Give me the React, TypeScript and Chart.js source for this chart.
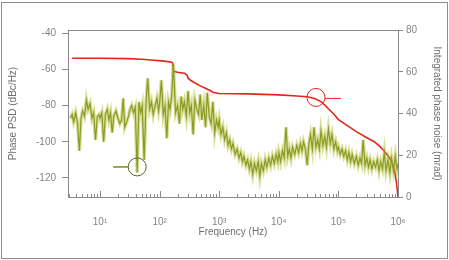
import React, { useEffect, useRef } from 'react';
import { Chart, registerables } from 'chart.js';

Chart.register(...registerables);

// Phase PSD (green, left axis, dBc/Hz)
const psdFreq = [
  3.2, 3.4, 3.6, 3.9, 4.2, 4.5, 4.8, 5.1, 5.5, 5.9, 6.3, 6.8, 7.3, 7.8, 8.4, 9.0, 9.6,
  10, 10.7, 11.5, 12.3, 13.2, 14.1, 15, 16, 17, 18.5, 20, 21.5, 23, 24.5, 26, 28, 30, 32, 34, 36.5, 39, 42, 45, 48, 51, 55, 59, 63, 68, 73, 78, 84, 90, 96,
  100, 107, 115, 123, 132, 141, 150, 160, 170, 185, 200, 215, 230, 245, 260, 280, 300, 320, 340, 365, 390, 420, 450, 480, 510, 550, 590, 630, 680, 730, 780, 840, 900, 960,
  1000, 1070, 1150, 1230, 1320, 1410, 1500, 1600, 1700, 1850, 2000, 2150, 2300, 2450, 2600, 2800, 3000, 3200, 3400, 3650, 3900, 4200, 4500, 4800, 5100, 5500, 5900, 6300, 6800, 7300, 7800, 8400, 9000, 9600,
  10000, 10700, 11500, 12300, 13200, 14100, 15000, 16000, 17000, 18500, 20000, 21500, 23000, 24500, 26000, 28000, 30000, 32000, 34000, 36500, 39000, 42000, 45000, 48000, 51000, 55000, 59000, 63000, 68000, 73000, 78000, 84000, 90000, 96000,
  100000, 107000, 115000, 123000, 132000, 141000, 150000, 160000, 170000, 185000, 200000, 215000, 230000, 245000, 260000, 280000, 300000, 320000, 340000, 365000, 390000, 420000, 450000, 480000, 510000, 550000, 590000, 630000, 680000, 730000, 780000, 840000, 900000, 960000, 1000000,
];
const psdDb = [
  -87, -85, -89, -84, -90, -105, -87, -83, -86, -77, -82, -79, -87, -84, -99, -86, -85,
  -87, -84, -100, -85, -82, -88, -84, -95, -86, -83, -87, -90, -88, -76, -92, -89, -86, -82, -80, -84, -81, -117, -78, -84, -80, -110, -79, -65, -82, -78, -85, -80, -76, -83,
  -79, -66, -85, -80, -98, -78, -82, -74, -57, -84, -80, -90, -75, -82, -78, -86, -72, -84, -80, -96, -77, -82, -85, -74, -88, -80, -92, -73, -86, -90, -78, -95, -88, -92,
  -88, -96, -92, -99, -95, -102, -99, -104, -101, -107, -104, -109, -106, -111, -108, -113, -110, -115, -111, -118, -112, -116, -111, -119, -112, -116, -110, -114, -109, -113, -108, -112, -107, -111,
  -106, -111, -105, -109, -92, -108, -104, -109, -103, -107, -102, -106, -101, -105, -100, -104, -113, -101, -96, -104, -92, -103, -99, -104, -94, -102, -97, -103, -93, -101, -96, -104, -100, -105,
  -103, -107, -104, -108, -105, -110, -106, -111, -107, -112, -108, -113, -109, -112, -99, -113, -109, -114, -110, -115, -111, -114, -110, -116, -111, -115, -106, -116, -110, -117, -109, -116, -108, -115, -112,
];

// Integrated phase noise (red, right axis, mrad)
const intFreq = [3.4, 10, 30, 50, 80, 120, 160, 165, 172, 200, 260, 290, 300, 330, 400, 500, 600, 700, 800, 1000, 3000, 10000, 20000, 30000, 40000, 50000, 60000, 70000, 85000, 100000, 150000, 200000, 300000, 400000, 500000, 600000, 700000, 800000, 880000, 940000, 1000000];
const intMrad = [66.5, 66.5, 66.3, 66, 65.5, 65.1, 64.6, 64.1, 60.2, 59.8, 59.3, 58.3, 56.9, 55.9, 54.5, 53, 52, 51, 50.1, 49.6, 49.4, 48.9, 48.4, 48, 47.2, 45.8, 43.9, 41.9, 39.5, 37.1, 33.7, 31.3, 28.4, 26.5, 24.1, 21.7, 19.3, 16.4, 12, 7.2, 0];

const xMajorTicks = [10, 100, 1000, 10000, 100000, 1000000];
const xTickLabels = ['10¹', '10²', '10³', '10⁴', '10⁵', '10⁶'];
const yLeftTicks = [-120, -100, -80, -60, -40];
const yRightTicks = [0, 20, 40, 60, 80];

// markers pointing each curve to its axis (data coordinates)
const redMarker = { f: 42000, v: 47.7, tail: 110000 };
const greenMarker = { f: 42, v: -113.9, tail: 16.6 };

const FONT = { family: '"Liberation Sans", Arial, sans-serif', size: 10 };

const framePlugin = {
  id: 'frame',
  beforeDraw(chart: any) {
    const ctx = chart.ctx;
    ctx.save();
    ctx.fillStyle = '#ffffff';
    ctx.fillRect(0, 0, chart.width, chart.height);
    ctx.strokeStyle = '#8c8c8c';
    ctx.lineWidth = 1;
    ctx.strokeRect(1.5, 2.5, chart.width - 3, chart.height - 4);
    ctx.restore();
  },
  afterDatasetsDraw(chart: any) {
    const ctx = chart.ctx;
    const { left, top, right, bottom } = chart.chartArea;
    const xs = chart.scales.x;
    const yl = chart.scales.y;
    const yr = chart.scales.y1;
    ctx.save();
    ctx.strokeStyle = '#8a8a8a';
    ctx.lineWidth = 1;
    ctx.strokeRect(Math.round(left) + 0.5, Math.round(top) + 0.5, Math.round(right - left), Math.round(bottom - top));
    // inward x tick marks
    ctx.beginPath();
    for (const t of xs.ticks) {
      const px = Math.round(xs.getPixelForValue(t.value)) + 0.5;
      const len = xMajorTicks.includes(t.value) ? 6 : 3;
      ctx.moveTo(px, bottom);
      ctx.lineTo(px, bottom - len);
    }
    ctx.stroke();
    // red marker
    const rx = xs.getPixelForValue(redMarker.f);
    const ry = yr.getPixelForValue(redMarker.v);
    const rt = xs.getPixelForValue(redMarker.tail);
    ctx.strokeStyle = '#e3261d';
    ctx.beginPath();
    ctx.arc(rx, ry, 9, 0, Math.PI * 2);
    ctx.stroke();
    ctx.beginPath();
    ctx.moveTo(rx + 9, ry + 1);
    ctx.lineTo(rt, ry + 1);
    ctx.stroke();
    // green marker
    const gx = xs.getPixelForValue(greenMarker.f);
    const gy = yl.getPixelForValue(greenMarker.v);
    const gt = xs.getPixelForValue(greenMarker.tail);
    ctx.strokeStyle = '#5b6420';
    ctx.beginPath();
    ctx.arc(gx, gy, 9, 0, Math.PI * 2);
    ctx.stroke();
    ctx.strokeStyle = '#7a8a14';
    ctx.lineWidth = 1.5;
    ctx.beginPath();
    ctx.moveTo(gx - 9, gy);
    ctx.lineTo(gt, gy);
    ctx.stroke();
    ctx.restore();
  },
};

export default function App() {
  const ref = useRef<HTMLCanvasElement | null>(null);
  useEffect(() => {
    if (!ref.current) return;
    const psd = psdFreq.map((f, i) => ({ x: f, y: psdDb[i] }));
    const integ = intFreq.map((f, i) => ({ x: f, y: intMrad[i] }));
    const chart = new Chart(ref.current, {
      type: 'line',
      data: {
        datasets: [
          { data: psd, yAxisID: 'y', borderColor: 'rgba(175,190,45,0.5)', borderWidth: 3.5, pointRadius: 0, tension: 0 },
          { data: psd, yAxisID: 'y', borderColor: '#67761a', borderWidth: 1.2, pointRadius: 0, tension: 0 },
          { data: integ, yAxisID: 'y1', borderColor: '#e3261d', borderWidth: 1.6, pointRadius: 0, tension: 0 },
        ],
      },
      options: {
        responsive: false,
        animation: false,
        layout: { padding: { left: 0, right: 0, top: 30, bottom: 0 } },
        plugins: { legend: { display: false }, tooltip: { enabled: false } },
        scales: {
          x: {
            type: 'logarithmic',
            min: 2.9,
            max: 1000000,
            afterFit: (s: any) => { s.height = 63; },
            afterBuildTicks: (s: any) => {
              const ticks: any[] = [];
              for (let e = 0; e <= 6; e++) {
                for (let m = 1; m <= 9; m++) {
                  const v = m * Math.pow(10, e);
                  if (v >= 2.9 && v <= 1000000) ticks.push({ value: v });
                }
              }
              s.ticks = ticks;
            },
            grid: { display: false, drawTicks: false },
            border: { display: false },
            ticks: {
              autoSkip: false,
              maxRotation: 0,
              padding: 19,
              color: '#858585',
              font: FONT,
              callback: (v: any) => {
                const i = xMajorTicks.indexOf(Number(v));
                return i >= 0 ? xTickLabels[i] : '';
              },
            },
            title: { display: true, text: 'Frequency (Hz)', color: '#6e6e6e', font: FONT, padding: { top: 0, bottom: 22 } },
          },
          y: {
            position: 'left',
            min: -130.5,
            max: -38.3,
            afterFit: (s: any) => { s.width = 68; },
            afterBuildTicks: (s: any) => { s.ticks = yLeftTicks.map((v) => ({ value: v })); },
            grid: { display: true, drawOnChartArea: false, drawTicks: true, tickLength: 6, color: '#8a8a8a' },
            border: { display: false },
            ticks: { padding: 6, color: '#858585', font: FONT },
            title: { display: true, text: 'Phase PSD (dBc/Hz)', color: '#6e6e6e', font: FONT, padding: { top: 7, bottom: 0 } },
          },
          y1: {
            position: 'right',
            min: 0,
            max: 80,
            afterFit: (s: any) => { s.width = 51; },
            afterBuildTicks: (s: any) => { s.ticks = yRightTicks.map((v) => ({ value: v })); },
            grid: { display: true, drawOnChartArea: false, drawTicks: true, tickLength: 5, color: '#8a8a8a' },
            border: { display: false },
            ticks: { padding: 3, color: '#858585', font: FONT },
            title: { display: true, text: 'Integrated phase noise (mrad)', color: '#6e6e6e', font: FONT, padding: { top: 6, bottom: 0 } },
          },
        },
      },
      plugins: [framePlugin],
    } as any);
    return () => chart.destroy();
  }, []);
  return (
    <div style={{ position: 'fixed', left: 0, top: 0, width: 449, height: 260 }}>
      <canvas ref={ref} width={449} height={260} />
    </div>
  );
}
